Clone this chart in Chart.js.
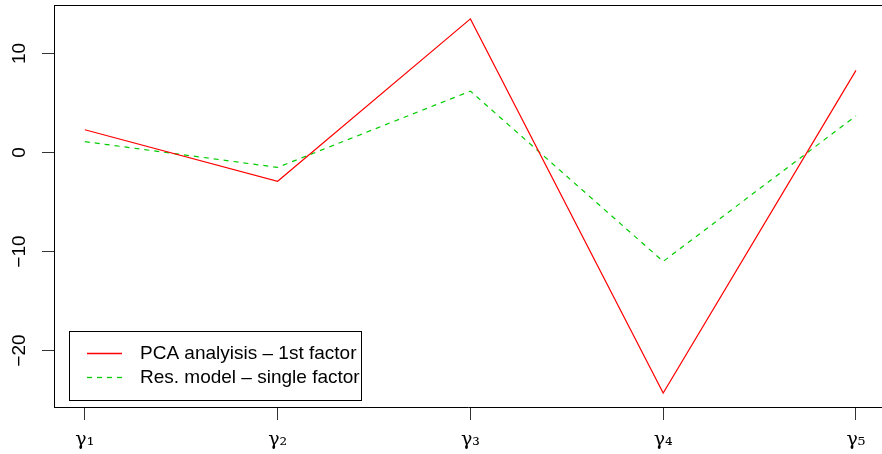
<!DOCTYPE html>
<html>
<head>
<meta charset="utf-8">
<script src="https://cdn.jsdelivr.net/npm/chart.js@4"></script>
<style>
  html, body { margin: 0; padding: 0; background: #fff; overflow: hidden; }
  #wrap { width: 882px; height: 454px; }
</style>
</head>
<body>
<div id="wrap"><canvas id="chart" width="882" height="454"></canvas></div>
<script>
// categories and values
const categories = ["γ₁", "γ₂", "γ₃", "γ₄", "γ₅"];
const pcaFactor = [2.3, -2.9, 13.5, -24.3, 8.3];
const resModel = [1.1, -1.5, 6.2, -11.0, 3.7];
const yTicks = [-20, -10, 0, 10];
const seriesNames = ["PCA analyisis \u2013 1st factor", "Res. model \u2013 single factor"];
const seriesColors = ["#FF0000", "#00CD00"];

const FONT = '"Liberation Sans", Arial, Helvetica, sans-serif';

// build {x,y} points from the category index
const toPoints = arr => arr.map((v, i) => ({ x: i + 1, y: v }));

// top border of the box (R draws a full box, right side falls off the canvas)
const boxTop = {
  id: 'boxTop',
  afterDraw(chart) {
    const { ctx, chartArea } = chart;
    ctx.save();
    ctx.strokeStyle = '#000';
    ctx.lineWidth = 1;
    ctx.beginPath();
    ctx.moveTo(chartArea.left, chartArea.top + 0.5);
    ctx.lineTo(chartArea.right, chartArea.top + 0.5);
    ctx.stroke();
    ctx.restore();
  }
};

// rotated y labels, like R's default las=0
const yLabels = {
  id: 'yLabels',
  afterDraw(chart) {
    const { ctx } = chart;
    const ys = chart.scales.y;
    ctx.save();
    ctx.fillStyle = '#000';
    ctx.font = '19px ' + FONT;
    ctx.textAlign = 'center';
    ctx.textBaseline = 'alphabetic';
    ys.ticks.forEach(t => {
      const py = ys.getPixelForValue(t.value);
      ctx.save();
      ctx.translate(24.5, py);
      ctx.rotate(-Math.PI / 2);
      ctx.fillText(String(t.value).replace('-', '\u2212'), 0, 0);
      ctx.restore();
    });
    ctx.restore();
  }
};

// legend box in the lower-left corner of the plot
const boxLegend = {
  id: 'boxLegend',
  afterDraw(chart) {
    const { ctx } = chart;
    const x0 = 69.5, y0 = 331.5, w = 292, h = 69;
    ctx.save();
    ctx.fillStyle = '#fff';
    ctx.fillRect(x0, y0, w, h);
    ctx.font = '19px ' + FONT;
    ctx.textBaseline = 'middle';
    ctx.textAlign = 'left';
    chart.data.datasets.forEach((ds, i) => {
      const ly = 353 + i * 24;
      ctx.strokeStyle = seriesColors[i];
      ctx.lineWidth = 1.3;
      ctx.setLineDash(i === 1 ? [5, 5] : []);
      ctx.beginPath();
      ctx.moveTo(87, ly + 0.5);
      ctx.lineTo(122, ly + 0.5);
      ctx.stroke();
      ctx.setLineDash([]);
      ctx.fillStyle = '#000';
      ctx.fillText(ds.label, 140, ly + 1);
    });
    ctx.strokeStyle = '#000';
    ctx.lineWidth = 1;
    ctx.strokeRect(x0, y0, w, h);
    ctx.restore();
  }
};

new Chart(document.getElementById('chart'), {
  type: 'line',
  data: {
    datasets: [
      {
        label: seriesNames[0],
        data: toPoints(pcaFactor),
        borderColor: seriesColors[0],
        borderWidth: 1.2,
        pointRadius: 0,
        tension: 0,
        fill: false
      },
      {
        label: seriesNames[1],
        data: toPoints(resModel),
        borderColor: seriesColors[1],
        borderWidth: 1.2,
        borderDash: [5, 5],
        pointRadius: 0,
        tension: 0,
        fill: false
      }
    ]
  },
  options: {
    responsive: false,
    animation: false,
    devicePixelRatio: 1,
    layout: { padding: { top: 5, right: 0, left: 0, bottom: 0 } },
    plugins: { legend: { display: false }, tooltip: { enabled: false } },
    scales: {
      x: {
        type: 'linear',
        min: 0.84,
        max: 5.135,
        afterBuildTicks: s => { s.ticks = categories.map((c, i) => ({ value: i + 1 })); },
        afterFit: s => { s.height = 47; },
        ticks: {
          callback: v => categories[v - 1],
          color: '#000',
          font: { family: '"DejaVu Serif", serif', size: 19 },
          padding: 9,
          maxRotation: 0,
          autoSkip: false
        },
        grid: { drawOnChartArea: false, drawTicks: true, tickLength: 13, color: '#333', lineWidth: 1 },
        border: { display: true, color: '#000', width: 1 }
      },
      y: {
        type: 'linear',
        min: -25.7,
        max: 14.9,
        afterBuildTicks: s => { s.ticks = yTicks.map(v => ({ value: v })); },
        afterFit: s => { s.width = 54; },
        ticks: { display: false },
        grid: { drawOnChartArea: false, drawTicks: true, tickLength: 12, color: '#333', lineWidth: 1 },
        border: { display: true, color: '#000', width: 1 }
      }
    }
  },
  plugins: [boxTop, yLabels, boxLegend]
});
</script>
</body>
</html>
